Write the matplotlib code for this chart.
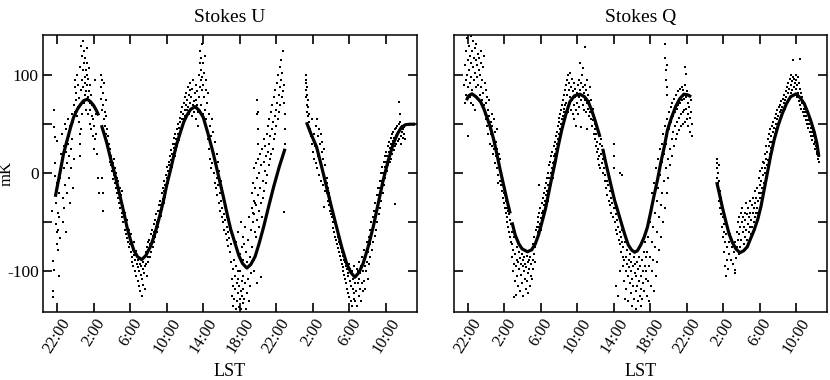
import numpy as np
import matplotlib
matplotlib.use("Agg")
import matplotlib.pyplot as plt

plt.rcParams['font.family'] = ['Liberation Serif', 'DejaVu Serif']

# LST in hours, counted on from 22:00 of the first night (26 = 2:00, 50 = 2:00 next day)
tick_hours = [22, 26, 30, 34, 38, 42, 46, 50, 54, 58]
tick_labels = ['%d:00' % (h % 24) for h in tick_hours]
y_ticks = [-100, -50, 0, 50, 100]
y_labels = ['-100', '', '0', '', '100']

# fitted model, Stokes U (hour, mK), one list per continuous piece
u_fit1 = [(21.8, -24), (22.0, -14), (22.36, 3), (22.7, 20), (23.1, 34), (23.45, 46), (23.8, 57),
          (24.2, 65), (24.55, 70), (24.9, 74), (25.3, 75.5), (25.65, 73), (26.0, 69), (26.3, 64), (26.55, 59)]
u_fit2 = [(26.85, 49), (27.15, 40), (27.46, 30), (27.8, 17), (28.2, 3), (28.55, -10), (28.9, -24),
          (29.3, -40), (29.65, -55), (30.0, -67), (30.4, -78.6), (30.8, -85), (31.25, -88), (31.7, -84),
          (32.2, -75), (32.55, -66), (32.9, -55), (33.3, -41), (33.65, -27.6), (34.0, -12), (34.4, 3),
          (34.75, 17), (35.1, 30), (35.5, 42), (35.85, 52), (36.2, 59), (36.6, 65), (37.1, 68), (37.55, 64),
          (38.0, 57), (38.5, 41), (39.1, 20), (39.6, 0), (40.2, -24), (40.6, -41), (41.0, -57), (41.5, -72),
          (41.9, -84), (42.3, -92), (42.77, -96.6), (43.2, -93), (43.67, -85), (44.1, -72), (44.6, -55),
          (45.1, -36), (45.7, -14), (46.3, 6), (46.95, 25)]
u_fit3 = [(49.3, 52), (49.8, 40), (50.4, 27), (50.95, 7), (51.5, -14), (52.05, -35), (52.6, -55),
          (53.15, -75), (53.7, -92), (54.15, -101), (54.6, -106), (55.05, -101), (55.5, -92), (56.05, -75),
          (56.6, -55), (57.15, -31), (57.7, -7), (58.25, 13), (58.8, 30), (59.25, 40), (59.7, 47),
          (60.15, 49.5), (60.6, 50), (61.2, 50)]

# fitted model, Stokes Q
q_fit1 = [(21.85, 74.5), (22.1, 79), (22.45, 81), (22.9, 78), (23.4, 73), (23.75, 66), (24.1, 57),
          (24.5, 46), (24.85, 34), (25.2, 19), (25.56, 3), (25.95, -13), (26.3, -27.6), (26.65, -41)]
q_fit2 = [(26.85, -50), (27.2, -63), (27.6, -72), (27.95, -77), (28.55, -80), (29.0, -78), (29.4, -72),
          (29.75, -63), (30.1, -51), (30.5, -37), (30.85, -21), (31.2, -5), (31.55, 10), (31.9, 27),
          (32.3, 44), (32.75, 60), (33.2, 73), (33.7, 79), (34.3, 80.6), (34.8, 78), (35.2, 73), (35.6, 64),
          (35.95, 54), (36.5, 37)]
q_fit3 = [(36.8, 25), (37.1, 12), (37.4, 0), (37.75, -14), (38.1, -27.6), (38.5, -40), (38.85, -51),
          (39.2, -62), (39.6, -73), (39.95, -78), (40.3, -80.5), (40.6, -79), (40.97, -73), (41.35, -65),
          (41.7, -55), (42.05, -40), (42.4, -24), (42.8, -7), (43.15, 10), (43.55, 27), (43.9, 44),
          (44.35, 57), (44.8, 68), (45.25, 76), (45.7, 80.6), (46.1, 80), (46.5, 78)]
q_fit4 = [(49.3, -9), (49.6, -21), (49.9, -34), (50.3, -49), (50.65, -61.5), (51.0, -70), (51.4, -77),
          (51.85, -81), (52.25, -79), (52.65, -75), (53.0, -67), (53.4, -58), (53.8, -47), (54.15, -34),
          (54.5, -17), (54.85, 0), (55.2, 17), (55.6, 34), (56.05, 49), (56.5, 61), (56.95, 71), (57.4, 78),
          (58.0, 81), (58.45, 77), (58.9, 71), (59.25, 63), (59.6, 54), (60.0, 42), (60.3, 30), (60.5, 17)]

# measured points, Stokes U (hour, mK)
u_dots = [
    (21.45, -38), (21.5, -126), (21.55, -120), (21.6, -89), (21.62, -99), (21.65, 64), (21.7, 47), (21.72, 37),
    (21.75, 10), (21.8, -3), (21.82, -17), (21.85, -30), (21.9, -52), (21.95, -60), (21.98, -72), (22.0, 33),
    (22.02, -10), (22.05, -40), (22.1, -58), (22.12, -78), (22.15, -105), (22.2, -20), (22.25, -45), (22.3, -66),
    (22.35, -5), (22.4, 20), (22.5, 40), (22.55, 15), (22.6, -25), (22.65, -50), (22.7, 28), (22.75, 5),
    (22.8, -35), (22.85, 50), (22.9, -12), (22.95, 22), (23.0, -60), (23.0, 45), (23.05, 10), (23.1, -20),
    (23.15, 30), (23.2, 55), (23.25, -5), (23.3, 38), (23.35, 18), (23.4, -30), (23.45, 48), (23.5, 25),
    (23.55, 5), (23.6, 60), (23.65, 35), (23.7, -15), (23.75, 52), (23.8, 15),
    (23.85, 70), (23.9, 88), (23.95, 62), (24.0, 95), (24.05, 75), (24.1, 82), (24.15, 58), (24.2, 100),
    (24.25, 68), (24.3, 90), (24.35, 77), (24.4, 52), (24.45, 108), (24.5, 40), (24.52, 30), (24.55, 18),
    (24.57, 45), (24.6, 85), (24.62, 130), (24.65, 70), (24.7, 120), (24.72, 95), (24.75, 60), (24.8, 135),
    (24.82, 105), (24.85, 88), (24.9, 112), (24.92, 72), (24.95, 125), (25.0, 98), (25.02, 80), (25.05, 118),
    (25.1, 92), (25.12, 65), (25.15, 105), (25.2, 84), (25.22, 128), (25.25, 100), (25.3, 90), (25.32, 112),
    (25.35, 78), (25.4, 96), (25.42, 60), (25.45, 84), (25.5, 107), (25.55, 72), (25.6, 90), (25.62, 50),
    (25.65, 64), (25.7, 80), (25.75, 45), (25.8, 58), (25.85, 70), (25.9, 38), (25.95, 55), (26.0, 25),
    (26.05, 48), (26.1, 95), (26.15, 35), (26.2, 60), (26.3, 40), (26.4, 20), (26.5, -5), (26.55, -20),
    (26.75, 100), (26.8, 88), (26.85, 76), (26.9, 95), (26.95, 65), (27.0, 82), (27.05, 70), (27.1, 55),
    (27.15, 92), (27.2, 62), (27.25, 48), (27.3, 75), (27.35, 40), (27.4, 58), (27.45, 33), (27.5, 45),
    (27.55, 28), (27.6, 38), (27.65, 20), (27.7, 30), (27.75, 12), (27.8, 25), (26.9, -5), (27.0, -20),
    (27.05, -38),
    (27.9, 8), (27.95, 18), (28.0, 2), (28.05, 12), (28.1, -6), (28.15, 10), (28.2, -2), (28.25, 15),
    (28.3, -10), (28.35, 5), (28.4, -15), (28.45, 0), (28.5, -20), (28.55, -5), (28.6, -12), (28.65, -25),
    (28.7, -8), (28.75, -18), (28.8, -30), (28.85, -15), (28.9, -35), (28.95, -22), (29.0, -28), (29.05, -40),
    (29.1, -18), (29.15, -45), (29.2, -33), (29.25, -50), (29.3, -38), (29.35, -44), (29.4, -58), (29.45, -40),
    (29.5, -52), (29.55, -62), (29.6, -48), (29.65, -66), (29.7, -55), (29.75, -60), (29.8, -70), (29.85, -58),
    (29.9, -75), (29.95, -65), (30.0, -72), (30.05, -80), (30.1, -62), (30.15, -85), (30.2, -74), (30.25, -90),
    (30.3, -78), (30.35, -95), (30.4, -83), (30.45, -70), (30.5, -100), (30.55, -88), (30.6, -79), (30.65, -105),
    (30.7, -92), (30.75, -84), (30.8, -110), (30.85, -96), (30.9, -88), (30.95, -115), (31.0, -100), (31.05, -92),
    (31.1, -120), (31.15, -104), (31.2, -95), (31.25, -125), (31.3, -108), (31.35, -98), (31.4, -114),
    (31.45, -90), (31.5, -102), (31.55, -85), (31.6, -95), (31.65, -118), (31.7, -80), (31.75, -92),
    (31.8, -75), (31.85, -105), (31.9, -85), (31.95, -70), (32.0, -90),
    (32.05, -78), (32.1, -68), (32.15, -85), (32.2, -72), (32.25, -62), (32.3, -80), (32.35, -70), (32.4, -58),
    (32.45, -75), (32.5, -64), (32.55, -52), (32.6, -70), (32.65, -60), (32.7, -48), (32.75, -65), (32.8, -55),
    (32.85, -42), (32.9, -60), (32.95, -50), (33.0, -38), (33.05, -55), (33.1, -45), (33.15, -32), (33.2, -48),
    (33.25, -38), (33.3, -28), (33.35, -44), (33.4, -32), (33.45, -20), (33.5, -36), (33.55, -26), (33.6, -15),
    (33.65, -30), (33.7, -18), (33.75, -8), (33.8, -24), (33.85, -12), (33.9, -2), (33.95, -16), (34.0, -5),
    (34.05, 6), (34.1, -10), (34.15, 2), (34.2, 12), (34.25, -4), (34.3, 8), (34.35, 18), (34.4, 0),
    (34.45, 14), (34.5, 24), (34.55, 6), (34.6, 20), (34.65, 30), (34.7, 12), (34.75, 26), (34.8, 36),
    (34.85, 18), (34.9, 30), (34.95, 40), (35.0, 24), (35.05, 35), (35.1, 45), (35.15, 28), (35.2, 40),
    (35.25, 50), (35.3, 34), (35.35, 46), (35.4, 56), (35.45, 40), (35.5, 52), (35.55, 62), (35.6, 45),
    (35.65, 55), (35.7, 68), (35.75, 50), (35.8, 60), (35.85, 72), (35.9, 55), (35.95, 65), (36.0, 78),
    (36.05, 58),
    (36.1, 70), (36.15, 82), (36.2, 64), (36.25, 75), (36.3, 88), (36.35, 68), (36.4, 80), (36.45, 60),
    (36.5, 85), (36.55, 72), (36.6, 92), (36.65, 66), (36.7, 78), (36.75, 58), (36.8, 86), (36.85, 70),
    (36.9, 95), (36.95, 74), (37.0, 62), (37.05, 82), (37.1, 68), (37.15, 90), (37.2, 75), (37.25, 55),
    (37.3, 84), (37.35, 70), (37.4, 48), (37.45, 62), (37.5, 78), (37.55, 100), (37.6, 112), (37.62, 88),
    (37.65, 125), (37.7, 95), (37.72, 70), (37.75, 118), (37.8, 105), (37.82, 85), (37.85, 132), (37.9, 98),
    (37.92, 60), (37.95, 112), (38.0, 90), (38.05, 78), (38.1, 102), (38.15, 65), (38.2, 120), (38.25, 85),
    (38.3, 55), (38.35, 95), (38.4, 72), (38.45, 45), (38.5, 82), (38.55, 35),
    (38.6, 60), (38.65, 25), (38.7, 48), (38.75, 15), (38.8, 38), (38.85, 5), (38.9, 30), (38.95, 55),
    (39.0, 10), (39.05, 22), (39.1, 42), (39.15, 0), (39.2, 18), (39.25, -10), (39.3, 32), (39.35, 8),
    (39.4, -15), (39.45, 20), (39.5, -5), (39.55, -22), (39.6, 12), (39.65, -12), (39.7, -30), (39.75, 2),
    (39.8, -20), (39.85, -38), (39.9, -8), (39.95, -28), (40.0, -45), (40.05, -15), (40.1, -35), (40.15, -50),
    (40.2, -25), (40.25, -42), (40.3, -58), (40.35, -30), (40.4, -48), (40.45, -62), (40.5, -38), (40.55, -55),
    (40.6, -68), (40.65, -45), (40.7, -60), (40.75, -74), (40.8, -52), (40.85, -66), (40.9, -80), (40.95, -58),
    (41.0, -72),
    (41.05, -90), (41.1, -108), (41.15, -125), (41.2, -98), (41.25, -135), (41.3, -115), (41.35, -88),
    (41.4, -128), (41.45, -105), (41.5, -118), (41.55, -138), (41.6, -95), (41.65, -112), (41.7, -130),
    (41.75, -100), (41.8, -122), (41.85, -108), (41.9, -136), (41.95, -115), (42.0, -128), (42.05, -100),
    (42.1, -120), (42.15, -138), (42.2, -110), (42.25, -125), (42.3, -105), (42.35, -132), (42.4, -118),
    (42.5, -128), (42.6, -112), (42.7, -138), (42.8, -122), (42.9, -108), (43.0, -130), (43.1, -115),
    (43.2, -102), (41.6, -70), (41.8, -60), (42.0, -82), (42.1, -50), (42.2, -75), (42.3, -65), (42.4, -88),
    (42.5, -72), (42.6, -55), (42.7, -80), (42.8, -90), (42.9, -68), (43.0, -45), (43.1, -85), (43.2, -58),
    (43.3, -75), (43.4, -40), (43.5, -88), (43.6, -100), (43.7, -30), (43.8, -65), (43.9, -112),
    (43.3, -20), (43.35, -35), (43.4, -10), (43.45, -50), (43.5, -28), (43.55, 5), (43.6, -42), (43.65, -15),
    (43.7, -60), (43.75, 10), (43.8, -32), (43.85, -5), (43.9, -48), (43.95, 15), (44.0, -22), (44.05, -38),
    (44.1, 0), (44.15, -55), (44.2, 20), (44.25, -15), (44.3, -30), (44.35, 8), (44.4, -45), (44.45, 25),
    (44.5, -8), (44.55, -25), (44.6, 12), (44.65, 35), (44.7, -18), (44.75, 2), (44.8, 28), (44.85, -10),
    (44.9, 18), (44.95, 40), (45.0, -2), (45.05, 22), (45.1, 48), (45.15, 8), (45.2, 30), (45.25, 55),
    (45.3, 15), (45.35, 38), (45.4, 62), (45.45, 20), (45.5, 45), (45.55, 70), (45.6, 25), (45.65, 52),
    (45.7, 35), (45.75, 78), (45.8, 58), (45.85, 40), (45.9, 85), (45.95, 65), (46.0, 48), (46.05, 92),
    (46.1, 72), (46.15, 55), (46.2, 100), (46.25, 80), (46.3, 62), (46.35, 108), (46.4, 88), (46.45, 70),
    (46.5, 115), (46.55, 95), (46.6, 78), (46.65, 102), (46.7, 84), (46.75, 125), (46.8, 90), (46.85, 72),
    (46.9, 60), (46.95, 45), (47.0, 30), (43.9, 75), (43.92, 60), (43.95, 45), (43.97, 30), (44.0, 62),
    (44.3, -106), (46.8, -39),
    (49.2, 100), (49.22, 92), (49.25, 85), (49.28, 78), (49.3, 95), (49.32, 70), (49.35, 88), (49.38, 62),
    (49.4, 80), (49.42, 58), (49.45, 75), (49.5, 68), (49.55, 52), (49.6, 60), (49.7, 45), (49.8, 38),
    (49.85, 55), (49.9, 30), (50.0, 35), (50.05, 22), (50.1, 40), (50.15, 15), (50.2, 28), (50.3, 10),
    (50.35, 48), (50.4, 25), (50.45, 55), (50.5, 5), (50.55, 38), (50.6, 18), (50.65, 45), (50.7, -2),
    (50.75, 30), (50.8, 12), (50.85, 40), (50.9, -8), (50.95, 22), (51.0, 5), (51.05, 32), (51.1, -12),
    (51.15, 15), (51.2, -5), (51.25, 25), (51.3, -18), (51.35, 8), (51.2, -34),
    (51.5, -5), (51.55, -20), (51.6, -10), (51.65, -28), (51.7, -15), (51.75, -32), (51.8, -20), (51.85, -38),
    (51.9, -25), (51.95, -42), (52.0, -30), (52.05, -45), (52.1, -35), (52.15, -50), (52.2, -40), (52.25, -56),
    (52.3, -45), (52.35, -60), (52.4, -48), (52.45, -65), (52.5, -52), (52.55, -68), (52.6, -58), (52.65, -72),
    (52.7, -60), (52.75, -76), (52.8, -65), (52.85, -80), (52.9, -70), (52.95, -84), (53.0, -72), (53.05, -88),
    (53.1, -76), (53.15, -92), (53.2, -80), (53.25, -96), (53.3, -84), (53.35, -100), (53.4, -88),
    (53.45, -104), (53.5, -90), (53.55, -108), (53.6, -95), (53.65, -112), (53.7, -98), (53.75, -118),
    (53.8, -102), (53.85, -122), (53.9, -105), (53.95, -92), (54.0, -126), (54.05, -110), (54.1, -98),
    (54.15, -130), (54.2, -115), (54.25, -100), (54.3, -135), (54.35, -118), (54.4, -108), (54.45, -128),
    (54.5, -95), (54.55, -122), (54.6, -112),
    (54.65, -130), (54.7, -105), (54.75, -120), (54.8, -98), (54.85, -135), (54.9, -112), (54.95, -100),
    (55.0, -125), (55.05, -108), (55.1, -90), (55.15, -118), (55.2, -102), (55.25, -130), (55.3, -95),
    (55.35, -112), (55.4, -85), (55.45, -120), (55.5, -100), (55.55, -88), (55.6, -110), (55.65, -78),
    (55.7, -95), (55.75, -118), (55.8, -82), (55.85, -100), (55.9, -70), (55.95, -90), (56.0, -108),
    (56.05, -80), (56.1, -65), (56.15, -92), (56.2, -72), (56.25, -58), (56.3, -85), (56.35, -66), (56.4, -50),
    (56.45, -78), (56.5, -60), (56.55, -45), (56.6, -70), (56.65, -52), (56.7, -38), (56.75, -64), (56.8, -45),
    (56.85, -30), (56.9, -58), (56.95, -38), (57.0, -22), (57.05, -50), (57.1, -30), (57.15, -15), (57.2, -42),
    (57.25, -22), (57.3, -8), (57.35, -35), (57.4, -15), (57.45, 0), (57.5, -28), (57.55, -8), (57.6, 6),
    (57.65, -20), (57.7, 0), (57.75, 12), (57.8, -12), (57.85, 6), (57.9, 18), (57.95, -5), (58.0, 12),
    (58.05, 22), (58.1, 2), (58.15, 18), (58.2, 28), (58.25, 8), (58.3, 22), (58.35, 32), (58.4, 12),
    (58.45, 26), (58.5, 36), (58.55, 15), (58.6, 30), (58.65, 40), (58.7, 20), (58.75, 33), (58.8, 42),
    (58.85, 24), (58.9, 36), (58.95, 45), (59.0, 28), (59.05, 38), (59.1, 46), (59.15, 30), (59.2, 40),
    (59.25, 48), (59.3, 33), (59.35, 42), (59.4, 50), (59.45, 35), (59.5, 44), (59.55, 52), (59.6, 38),
    (59.65, 46), (59.7, 30), (59.75, 42), (59.8, 48), (59.85, 36), (59.9, 45), (59.95, 40), (60.0, 47),
    (60.05, 35), (59.4, 73), (59.5, 60), (59.0, -31),
]

# measured points, Stokes Q
q_dots = [
    (21.6, 90), (21.65, 72), (21.7, 110), (21.75, 95), (21.8, 125), (21.85, 80), (21.9, 138), (21.95, 100),
    (22.0, 115), (22.0, 38), (22.05, 88), (22.1, 130), (22.15, 105), (22.2, 120), (22.25, 92), (22.3, 140),
    (22.35, 112), (22.4, 98), (22.45, 125), (22.5, 85), (22.55, 135), (22.6, 108), (22.65, 118), (22.7, 95),
    (22.75, 128), (22.8, 102), (22.85, 88), (22.9, 115), (22.95, 132), (23.0, 98), (23.05, 110), (23.1, 122),
    (23.15, 90), (23.2, 105), (23.25, 118), (23.3, 80), (23.35, 100), (23.4, 125), (23.45, 88), (23.5, 112),
    (23.55, 75), (23.6, 95), (23.65, 108), (23.7, 82), (23.75, 120), (23.8, 70), (23.85, 92), (23.9, 60),
    (23.95, 85), (24.0, 72), (24.05, 55), (24.1, 78), (24.15, 48), (24.2, 65), (24.25, 40), (24.3, 58),
    (24.35, 75), (24.4, 45), (24.45, 30), (24.5, 52), (22.2, 78), (22.4, 72), (22.6, 70), (22.8, 64),
    (24.55, 40), (24.6, 60), (24.65, 28), (24.7, 48), (24.75, 20), (24.8, 38), (24.85, 55), (24.9, 25),
    (24.95, 42), (25.0, 10), (25.05, 32), (25.1, 18), (25.15, 45), (25.2, 5), (25.25, 25), (25.3, 12),
    (25.35, -2), (25.4, 20), (25.45, 8), (25.5, -8), (25.55, 15), (25.6, -12), (25.65, 2), (25.7, -5),
    (25.75, -18), (25.8, -8), (25.85, -25), (25.9, -12), (25.95, -30), (26.0, -20), (26.05, -35), (26.1, -22),
    (26.15, -40), (26.2, -28), (26.25, -45), (26.3, -35), (26.35, -50), (26.4, -38), (26.45, -55), (26.5, -42),
    (26.55, -60), (26.6, -48), (26.65, -65), (26.7, -52), (26.75, -70), (25.3, -10), (26.9, -72),
    (26.8, -60), (26.85, -85), (26.9, -72), (26.95, -100), (27.0, -78), (27.05, -92), (27.1, -65), (27.15, -110),
    (27.2, -82), (27.25, -95), (27.3, -124), (27.35, -88), (27.4, -75), (27.45, -105), (27.5, -90), (27.55, -115),
    (27.6, -80), (27.65, -98), (27.7, -86), (27.75, -120), (27.8, -92), (27.85, -104), (27.9, -82),
    (27.95, -112), (28.0, -95), (28.05, -88), (28.1, -125), (28.15, -100), (28.2, -85), (28.25, -108),
    (28.3, -92), (28.35, -118), (28.4, -96), (28.45, -84), (28.5, -110), (28.55, -90), (28.6, -102),
    (28.65, -122), (28.7, -88), (28.75, -98), (28.8, -115), (28.85, -85), (28.9, -105), (28.95, -92),
    (29.0, -78), (29.05, -108), (29.1, -88), (29.15, -72), (29.2, -98), (29.25, -82), (29.3, -65), (29.35, -90),
    (29.4, -75), (29.45, -58), (27.1, -126),
    (29.5, -70), (29.55, -55), (29.6, -66), (29.65, -50), (29.7, -60), (29.75, -45), (29.8, -55), (29.85, -40),
    (29.9, -52), (29.95, -35), (30.0, -46), (30.05, -58), (30.1, -40), (30.15, -30), (30.2, -44), (30.25, -25),
    (30.3, -38), (30.35, -20), (30.4, -32), (30.45, -15), (30.5, -28), (30.55, -10), (30.6, -22), (30.65, -5),
    (30.7, -18), (30.75, 0), (30.8, -12), (30.85, -28), (30.9, -5), (30.95, 8), (31.0, -10), (31.05, 12),
    (31.1, 0), (31.15, 18), (31.2, 5), (31.25, 22), (31.3, 10), (31.35, -5), (31.4, 18), (31.45, 28),
    (31.5, 12), (31.55, 32), (31.6, 20), (31.65, 38), (31.7, 25), (31.75, 42), (31.8, 30), (31.85, 48),
    (31.9, 35), (31.95, 52), (32.0, 40), (32.05, 56), (32.1, 45), (32.15, 60), (32.2, 50), (32.25, 65),
    (32.3, 55), (32.35, 70), (32.4, 58), (32.45, 75), (32.5, 62), (32.55, 80), (32.6, 66), (32.65, 85),
    (32.7, 70), (32.75, 90), (29.85, -12),
    (32.8, 72), (32.85, 95), (32.9, 80), (32.95, 62), (33.0, 100), (33.05, 85), (33.1, 70), (33.15, 92),
    (33.2, 78), (33.25, 102), (33.3, 65), (33.35, 88), (33.4, 96), (33.45, 75), (33.5, 84), (33.55, 60),
    (33.6, 92), (33.65, 70), (33.7, 55), (33.75, 86), (33.8, 78), (33.85, 48), (33.9, 65), (33.95, 82),
    (34.0, 72), (34.05, 90), (34.1, 60), (34.15, 78), (34.2, 95), (34.25, 68), (34.3, 85), (34.35, 112),
    (34.4, 75), (34.45, 92), (34.5, 80), (34.55, 100), (34.6, 70), (34.65, 88), (34.7, 65), (34.75, 82),
    (34.8, 129), (34.85, 75), (34.9, 90), (34.95, 62), (35.0, 85), (35.05, 72), (35.1, 95), (35.15, 66),
    (35.2, 80), (35.25, 58), (35.3, 74), (35.35, 88), (35.4, 62), (35.45, 70), (35.5, 55), (35.55, 75),
    (35.6, 62), (35.65, 48), (35.7, 66), (35.75, 54), (35.8, 40), (35.85, 58), (35.9, 45), (35.95, 35),
    (36.0, 50), (36.05, 28), (36.1, 40), (36.15, 22), (36.2, 32), (36.25, 15), (36.3, 25), (36.35, 8),
    (36.4, 18), (36.45, 30), (36.5, 5), (34.4, 47), (35.1, 45), (34.6, 107),
    (36.6, 20), (36.65, 35), (36.7, 10), (36.75, 28), (36.8, 15), (36.85, 0), (36.9, 22), (36.95, 5),
    (37.0, -8), (37.05, 15), (37.1, -2), (37.15, -15), (37.2, 8), (37.25, -8), (37.3, -22), (37.35, 2),
    (37.4, -12), (37.45, -28), (37.5, -5), (37.55, -18), (37.6, -32), (37.65, -10), (37.7, -25), (37.75, -40),
    (37.8, -15), (37.85, -30), (37.9, -45), (37.95, -20), (38.0, 30), (38.02, 18), (38.05, 5), (38.08, -35),
    (38.1, -50), (38.15, -28), (38.2, -42), (38.25, -58), (38.3, -35), (38.35, -48), (38.4, -62), (38.45, -40),
    (38.5, -55), (38.55, -68), (38.6, -45), (38.65, -60), (38.7, -72), (38.75, -50), (38.8, -65), (38.85, -80),
    (38.9, -58), (38.95, -70), (39.0, -85), (38.9, -2), (38.7, 0),
    (38.3, -115), (38.5, -125), (38.7, -100), (39.0, -95), (39.05, -75), (39.1, -110), (39.15, -88),
    (39.2, -128), (39.25, -70), (39.3, -100), (39.35, -85), (39.4, -118), (39.45, -92), (39.5, -78),
    (39.55, -105), (39.6, -130), (39.65, -88), (39.7, -96), (39.75, -112), (39.8, -82), (39.85, -100),
    (39.9, -122), (39.95, -90), (40.0, -108), (40.05, -135), (40.1, -95), (40.15, -115), (40.2, -85),
    (40.25, -128), (40.3, -102), (40.35, -92), (40.4, -120), (40.45, -138), (40.5, -105), (40.55, -90),
    (40.6, -115), (40.65, -130), (40.7, -98), (40.75, -85), (40.8, -110), (40.85, -125), (40.9, -95),
    (40.95, -135), (41.0, -105), (41.05, -118), (41.1, -88), (41.15, -128), (41.2, -100), (41.25, -112),
    (41.3, -80), (41.35, -120), (41.4, -95), (41.45, -70), (41.5, -108), (41.55, -85),
    (41.6, -100), (41.65, -125), (41.7, -80), (41.75, -110), (41.8, -65), (41.85, -95), (41.9, -130),
    (41.95, -50), (42.0, -85), (42.05, -115), (42.1, -35), (42.15, -70), (42.2, -100), (42.25, -20),
    (42.3, -55), (42.35, -88), (42.4, -120), (42.45, -10), (42.5, -40), (42.55, -75), (42.6, -105), (42.65, 5),
    (42.7, -28), (42.75, -60), (42.8, -90), (42.85, 15), (42.9, -15), (42.95, -45), (43.0, -78), (43.05, 25),
    (43.1, -2), (43.15, -32), (43.2, -65), (43.25, 30), (43.3, 12), (43.35, -20), (43.4, -50), (43.45, 40),
    (43.5, 20), (43.55, -8), (43.6, -35), (43.65, 48), (43.7, 30), (43.75, 5), (43.8, -20), (43.85, 55),
    (43.9, 38), (43.95, 15), (44.0, -5), (44.05, 62), (44.1, 45), (44.15, 25), (44.2, 8), (44.25, 68),
    (44.3, 52), (44.35, 35), (44.4, 18), (44.45, 72), (44.5, 58), (44.55, 42), (44.6, 28), (44.65, 76),
    (44.7, 62), (44.75, 48), (44.8, 35), (44.85, 80), (44.9, 66), (44.95, 52), (45.0, 40), (45.05, 84),
    (45.1, 70), (45.15, 56), (45.2, 44), (45.25, 86), (45.3, 72), (45.35, 60), (45.4, 48), (45.45, 88),
    (45.5, 75), (45.55, 62), (45.6, 50), (45.65, 85), (45.7, 76), (45.75, 64), (45.8, 52), (45.85, 90),
    (45.9, 78), (45.95, 66), (46.0, 55), (46.05, 84), (46.1, 72), (46.15, 60), (46.2, 48), (46.25, 80),
    (46.3, 68), (46.35, 56), (46.4, 42), (46.45, 75), (46.5, 62), (46.55, 50), (46.6, 38),
    (43.6, 132), (43.65, 118), (43.7, 105), (43.75, 95), (43.8, 88), (43.85, 80), (43.9, 110), (45.8, 108),
    (45.9, 101),
    (49.3, 15), (49.32, 5), (49.35, -5), (49.38, 10), (49.4, -10), (49.42, 0), (49.45, -15), (49.5, 8),
    (49.52, -20), (49.55, -8), (49.6, -28), (49.65, -18), (49.7, -35), (49.75, -25), (49.8, -42), (49.85, -32),
    (49.9, -55), (49.95, -45), (50.0, -65), (50.05, -52), (50.1, -80), (50.15, -60), (50.2, -95), (50.25, -70),
    (50.3, -105), (50.35, -62), (50.4, -88), (50.45, -75), (50.5, -98),
    (50.6, -70), (50.7, -82), (50.8, -62), (50.9, -88), (51.0, -75), (51.1, -92), (51.2, -80), (51.3, -70),
    (51.4, -86), (51.5, -60), (51.55, -75), (51.6, -50), (51.65, -68), (51.7, -82), (51.75, -45), (51.8, -62),
    (51.85, -75), (51.9, -55), (51.95, -40), (52.0, -68), (52.05, -50), (52.1, -35), (52.15, -60), (52.2, -45),
    (52.25, -72), (52.3, -55), (52.35, -40), (52.4, -65), (52.45, -48), (52.5, -30), (52.55, -58), (52.6, -42),
    (52.65, -68), (52.7, -52), (52.75, -35), (52.8, -60), (52.85, -45), (52.9, -28), (52.95, -55), (53.0, -40),
    (53.05, -62), (53.1, -48), (53.15, -32), (53.2, -55), (53.25, -40), (53.3, -25), (53.35, -50), (53.4, -35),
    (53.45, -45), (53.5, -30), (53.55, -18), (53.6, -40), (53.65, -25), (53.7, -35), (53.75, -15), (53.8, -28),
    (53.85, -40), (53.9, -20), (53.95, -5), (54.0, -25), (54.05, -12), (54.1, 2), (54.15, -20), (54.2, -8),
    (54.25, 5), (54.3, -15), (54.35, 12), (54.4, -2), (51.3, -102), (51.35, -99),
    (54.45, 10), (54.5, -10), (54.55, 5), (54.6, 20), (54.65, 0), (54.7, 15), (54.75, 28), (54.8, 8),
    (54.85, 22), (54.9, 35), (54.95, 14), (55.0, 28), (55.05, 40), (55.1, 20), (55.15, 32), (55.2, 45),
    (55.25, 26), (55.3, 38), (55.35, 48), (55.4, 32), (55.45, 42), (55.5, 52), (55.55, 36), (55.6, 46),
    (55.65, 56), (55.7, 40), (55.75, 50), (55.8, 60), (55.85, 45), (55.9, 55), (55.95, 64), (56.0, 50),
    (56.05, 58), (56.1, 68), (56.15, 52), (56.2, 62), (56.25, 70), (56.3, 56), (56.35, 65), (56.4, 74),
    (56.45, 60), (56.5, 68), (56.55, 76), (56.6, 63), (56.65, 72), (56.7, 80), (56.75, 66), (56.8, 75),
    (56.85, 84), (56.9, 70), (56.95, 78), (57.0, 88), (57.05, 72), (57.1, 82), (57.15, 92), (57.2, 76),
    (57.25, 86), (57.3, 96), (57.35, 78), (57.4, 90), (57.45, 100), (57.5, 82), (57.55, 94), (57.6, 85),
    (57.65, 98), (57.7, 115), (57.75, 88), (57.8, 96), (57.85, 80), (57.9, 92), (57.95, 100), (58.0, 86),
    (58.05, 95), (58.1, 78), (58.15, 90), (58.2, 98), (58.25, 82), (58.3, 92), (58.35, 74), (58.4, 86),
    (58.45, 70), (58.5, 82), (58.55, 76), (58.6, 66), (58.65, 78), (58.7, 72), (58.75, 62), (58.8, 74),
    (58.85, 66), (58.9, 58), (58.95, 70), (59.0, 62), (59.05, 54), (59.1, 66), (59.15, 58), (59.2, 50),
    (59.25, 62), (59.3, 54), (59.35, 46), (59.4, 58), (59.45, 50), (59.5, 42), (59.55, 54), (59.6, 46),
    (59.65, 38), (59.7, 50), (59.75, 42), (59.8, 34), (59.85, 45), (59.9, 38), (59.95, 30), (60.0, 40),
    (60.05, 32), (60.1, 25), (60.15, 35), (60.2, 28), (60.25, 20), (60.3, 30), (60.35, 22), (60.4, 15),
    (60.45, 25), (60.5, 18), (60.55, 12), (58.45, 117),
]


def draw_panel(ax, dots, fits, title):
    t, v = zip(*dots)
    ax.plot(t, v, ls='none', marker='s', ms=1.5, mew=0, color='black')
    for seg in fits:
        ft, fv = zip(*seg)
        ax.plot(ft, fv, color='black', lw=2.3, solid_capstyle='butt')
    ax.set_xlim(20.45, 61.4)
    ax.set_ylim(-141, 141)
    ax.set_xticks(tick_hours)
    ax.set_xticklabels(tick_labels, rotation=58, fontsize=12)
    ax.set_yticks(y_ticks)
    ax.tick_params(direction='in', length=6.5, width=1.2, top=True, right=True, pad=3)
    ax.tick_params(axis='x', pad=3)
    for s in ax.spines.values():
        s.set_linewidth(1.1)
    ax.set_title(title, fontsize=14, pad=9)
    ax.set_xlabel('LST', fontsize=13, labelpad=5)


fig = plt.figure(figsize=(8.3, 3.8), dpi=100)
ax1 = fig.add_axes([0.0518, 0.18, 0.4506, 0.728])
ax2 = fig.add_axes([0.5466, 0.18, 0.4498, 0.728])

draw_panel(ax1, u_dots, [u_fit1, u_fit2, u_fit3], 'Stokes U')
draw_panel(ax2, q_dots, [q_fit1, q_fit2, q_fit3, q_fit4], 'Stokes Q')

ax1.set_yticklabels(y_labels, fontsize=12.5)
ax1.set_ylabel('mK', fontsize=12)
ax1.yaxis.set_label_coords(-0.075, 0.5)
ax2.set_yticklabels([])

fig.savefig('out.png', dpi=100)
